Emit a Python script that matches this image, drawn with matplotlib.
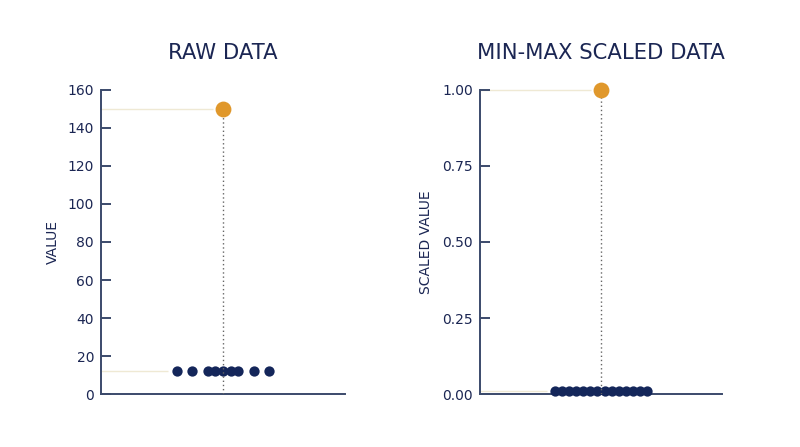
import matplotlib
matplotlib.use("Agg")
import matplotlib.pyplot as plt
import numpy as np

# ---------------- data ----------------
raw_cluster_values = [12, 12, 12, 12, 12, 12, 12, 12, 12]
raw_outlier_value = 150
scaled_cluster_values = [0.01] * 14
scaled_outlier_value = 1.0

raw_yticks = [0, 20, 40, 60, 80, 100, 120, 140, 160]
scaled_yticks = [0.0, 0.25, 0.5, 0.75, 1.0]
scaled_yticklabels = ["0.00", "0.25", "0.50", "0.75", "1.00"]

titles = ["RAW DATA", "MIN-MAX SCALED DATA"]
ylabels = ["VALUE", "SCALED VALUE"]

# ---------------- layout / style ----------------
raw_swarm_slots = [-6, -4, -2, -1, 0, 1, 2, 4, 6]       # jitter slots
scaled_swarm_slots = list(np.arange(14) - 6.5)
raw_slot_width = 0.063
scaled_slot_width = 0.058

NAVY = "#14265a"
SPINE = "#3b4a6b"
ORANGE = "#e0982c"
GUIDE = "#efe9d4"
TEXT = "#1b2653"

plt.rcParams["font.family"] = ["DejaVu Sans"]

fig = plt.figure(figsize=(8.0, 4.47), dpi=100)
ax1 = fig.add_axes([101 / 800, 53 / 447, 244 / 800, 304 / 447])
ax2 = fig.add_axes([480 / 800, 53 / 447, 242 / 800, 304 / 447])


def draw(ax, cluster, outlier, slots, slot_w, ymax, yticks, yticklabels, title, ylabel, ylabel_x):
    xs = np.array(slots) * slot_w
    ax.set_xlim(-1, 1)
    ax.set_ylim(0, ymax)
    # guides
    ax.hlines(outlier, -1, -0.085, color=GUIDE, lw=1.0, zorder=1, clip_on=False)
    ax.hlines(np.mean(cluster), -1, xs.min() - 0.07, color=GUIDE, lw=1.0, zorder=1, clip_on=False)
    ax.vlines(0, 0, outlier, color="#666666", lw=1.0, linestyles=(0, (1, 2)), zorder=3.5)
    ax.scatter(xs, cluster, s=55, color=NAVY, zorder=3, linewidths=0, clip_on=False)
    ax.scatter([0], [outlier], s=130, color=ORANGE, zorder=4, linewidths=0, clip_on=False)

    for sp in ["top", "right"]:
        ax.spines[sp].set_visible(False)
    for sp in ["left", "bottom"]:
        ax.spines[sp].set_color(SPINE)
        ax.spines[sp].set_linewidth(1.4)
    ax.set_xticks([])
    ax.set_yticks(yticks)
    ax.set_yticklabels(yticklabels)
    ax.tick_params(axis="y", direction="in", length=7.5, width=1.4, color=SPINE,
                   labelcolor=TEXT, labelsize=10, pad=5)
    ax.set_title(title, color=TEXT, fontsize=15.2, pad=22)
    ax.set_ylabel(ylabel, color=TEXT, fontsize=10)
    ax.yaxis.set_label_coords(ylabel_x, 0.5)


draw(ax1, raw_cluster_values, raw_outlier_value, raw_swarm_slots, raw_slot_width,
     160, raw_yticks, [str(t) for t in raw_yticks], titles[0], ylabels[0], -0.168)
draw(ax2, scaled_cluster_values, scaled_outlier_value, scaled_swarm_slots, scaled_slot_width,
     1.0, scaled_yticks, scaled_yticklabels, titles[1], ylabels[1], -0.194)

fig.savefig("out.png", dpi=100, facecolor="white")
